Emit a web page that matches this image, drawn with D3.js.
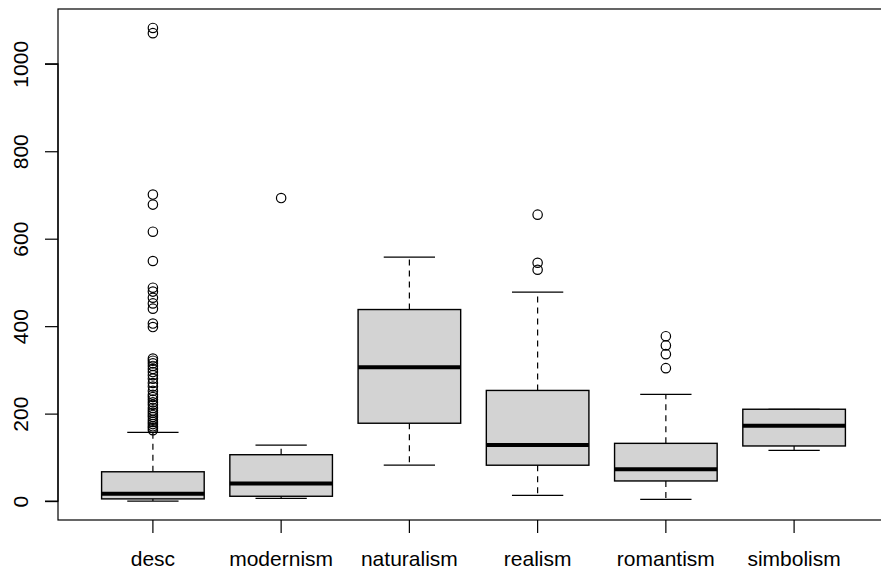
<!DOCTYPE html>
<html>
<head>
<meta charset="utf-8">
<script src="https://cdn.jsdelivr.net/npm/d3@7"></script>
<style>
  body { margin: 0; background: #fff; }
  svg { display: block; font-family: 'Liberation Sans', Arial, sans-serif; }
</style>
</head>
<body>
<div id="chart"></div>
<script>
const categories = ['desc', 'modernism', 'naturalism', 'realism', 'romantism', 'simbolism']
const whiskerLow = [0, 6, 82, 13, 4, 116]
const q1 = [5, 11, 178, 82, 46, 126]
const medians = [17, 40, 306, 128, 73, 172]
const q3 = [67, 106, 438, 253, 132, 210]
const whiskerHigh = [157, 128, 558, 478, 244, 210]
const outliers = [
  [1082, 1070, 701, 678, 616, 549, 488, 479, 465, 452, 440, 406, 398,
    326, 321, 315, 309, 302, 295, 288, 280, 270, 262, 252, 243, 238, 232,
    226, 220, 213, 207, 202, 197, 192, 186, 181, 176, 171, 167, 162],
  [693],
  [],
  [655, 545, 529],
  [377, 356, 336, 304],
  []
]
const yTicks = [0, 200, 400, 600, 800, 1000]

const width = 881
const height = 571
const margin = { top: 9, right: -8, bottom: 51, left: 58 }

const svg = d3
  .select('#chart')
  .append('svg')
  .attr('width', width)
  .attr('height', height)

const plotRight = width - margin.right
const plotBottom = height - margin.bottom

// R style: extend the data range by 4% on each side
const yMin = 0
const yMax = d3.max(outliers.flat().concat(whiskerHigh))
const span = yMax - yMin
const yScale = d3
  .scaleLinear()
  .domain([yMin - 0.04 * span, yMax + 0.04 * span])
  .range([plotBottom, margin.top])

const xScale = d3
  .scaleBand()
  .domain(categories)
  .range([margin.left, plotRight])
  .paddingInner(0)
  .paddingOuter(0.24)

const boxW = xScale.bandwidth() * 0.8
const center = d => xScale(d) + xScale.bandwidth() / 2

const boxes = categories.map((c, i) => ({
  name: c,
  lo: whiskerLow[i],
  q1: q1[i],
  med: medians[i],
  q3: q3[i],
  hi: whiskerHigh[i],
  out: outliers[i]
}))

const g = svg.selectAll('.box')
  .data(boxes)
  .enter()
  .append('g')
  .attr('class', 'box')

// dashed whiskers
g.append('line')
  .attr('x1', d => center(d.name))
  .attr('x2', d => center(d.name))
  .attr('y1', d => yScale(d.q3))
  .attr('y2', d => yScale(d.hi))
  .attr('stroke', '#000')
  .attr('stroke-width', 1.2)
  .attr('stroke-dasharray', '6,5')
g.append('line')
  .attr('x1', d => center(d.name))
  .attr('x2', d => center(d.name))
  .attr('y1', d => yScale(d.q1))
  .attr('y2', d => yScale(d.lo))
  .attr('stroke', '#000')
  .attr('stroke-width', 1.2)
  .attr('stroke-dasharray', '6,5')

// staples
g.append('line')
  .attr('x1', d => center(d.name) - boxW / 4)
  .attr('x2', d => center(d.name) + boxW / 4)
  .attr('y1', d => yScale(d.hi))
  .attr('y2', d => yScale(d.hi))
  .attr('stroke', '#000')
  .attr('stroke-width', 1.2)
g.append('line')
  .attr('x1', d => center(d.name) - boxW / 4)
  .attr('x2', d => center(d.name) + boxW / 4)
  .attr('y1', d => yScale(d.lo))
  .attr('y2', d => yScale(d.lo))
  .attr('stroke', '#000')
  .attr('stroke-width', 1.2)

g.append('rect')
  .attr('x', d => center(d.name) - boxW / 2)
  .attr('width', boxW)
  .attr('y', d => yScale(d.q3))
  .attr('height', d => yScale(d.q1) - yScale(d.q3))
  .attr('fill', 'lightgrey')
  .attr('stroke', '#000')
  .attr('stroke-width', 1.4)

g.append('line')
  .attr('x1', d => center(d.name) - boxW / 2)
  .attr('x2', d => center(d.name) + boxW / 2)
  .attr('y1', d => yScale(d.med))
  .attr('y2', d => yScale(d.med))
  .attr('stroke', '#000')
  .attr('stroke-width', 4)

g.selectAll('circle')
  .data(d => d.out.map(v => ({ name: d.name, v: v })))
  .enter()
  .append('circle')
  .attr('cx', d => center(d.name))
  .attr('cy', d => yScale(d.v))
  .attr('r', 4.7)
  .attr('fill', 'none')
  .attr('stroke', '#000')
  .attr('stroke-width', 1.2)

// frame
svg.append('rect')
  .attr('x', margin.left)
  .attr('y', margin.top)
  .attr('width', plotRight - margin.left)
  .attr('height', plotBottom - margin.top)
  .attr('fill', 'none')
  .attr('stroke', '#000')
  .attr('stroke-width', 1.2)

// y axis
const yAxis = d3.axisLeft(yScale)
  .tickValues(yTicks)
  .tickFormat(d3.format('d'))
  .tickSize(13)
  .tickPadding(6)
const yg = svg.append('g')
  .attr('transform', 'translate(' + margin.left + ',0)')
  .call(yAxis)
yg.select('.domain')
  .attr('d', 'M-13,' + yScale(0) + 'H0V' + yScale(1000) + 'H-13')
  .attr('stroke-width', 1.2)
yg.selectAll('.tick line').attr('stroke-width', 1.2)
yg.selectAll('.tick text')
  .attr('transform', 'rotate(-90)')
  .attr('x', 0)
  .attr('y', -30)
  .attr('dy', 0)
  .attr('text-anchor', 'middle')
  .attr('fill', '#000')
  .style('font-size', '21px')
  .style('font-family', "'Liberation Sans', Arial, sans-serif")

// x axis
const xAxis = d3.axisBottom(xScale).tickSize(13).tickPadding(14)
const xg = svg.append('g')
  .attr('transform', 'translate(0,' + plotBottom + ')')
  .call(xAxis)
xg.select('.domain').remove()
xg.selectAll('.tick line').attr('stroke-width', 1.2)
xg.selectAll('.tick text')
  .attr('fill', '#000')
  .attr('dy', '0.9em')
  .style('font-size', '21px')
  .style('font-family', "'Liberation Sans', Arial, sans-serif")
</script>
</body>
</html>
